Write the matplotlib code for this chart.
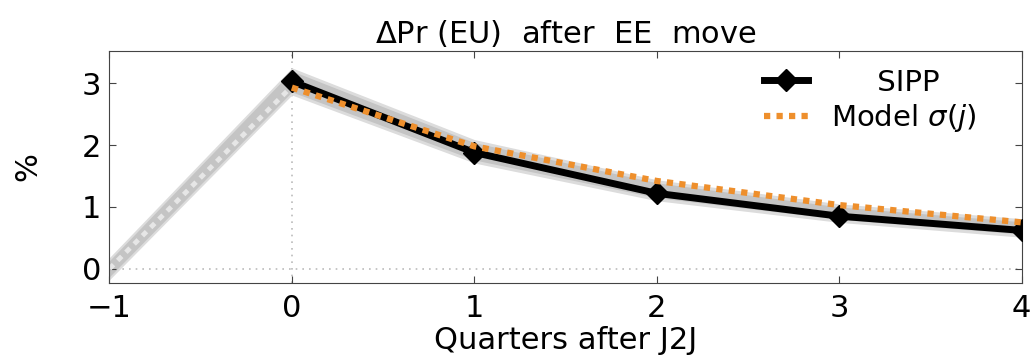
import matplotlib
matplotlib.use("Agg")
import matplotlib.pyplot as plt
import numpy as np

plt.rcParams['font.family'] = ['DejaVu Sans']
plt.rcParams['mathtext.fontset'] = 'dejavusans'

quarters = [-1, 0, 1, 2, 3, 4]
xtick_labels = ['\u22121', '0', '1', '2', '3', '4']
sipp_x = [0, 1, 2, 3, 4]
sipp = [3.03, 1.88, 1.22, 0.85, 0.62]
model_pre_x = [-1, 0]
model_pre = [0.0, 2.95]
model_x = [0, 1, 2, 3, 4]
model = [2.93, 1.98, 1.42, 1.03, 0.75]
band_x = [-1, 0, 1, 2, 3, 4]
band_mid = [0.0, 3.03, 1.90, 1.27, 0.90, 0.66]
band_inner = [0.13, 0.17, 0.14, 0.12, 0.10, 0.10]
band_outer = [0.18, 0.22, 0.19, 0.17, 0.15, 0.15]

fig = plt.figure(figsize=(10.32, 3.6), dpi=100)
ax = fig.add_axes([0.106, 0.214, 0.884, 0.644])

bm = np.array(band_mid)
ax.fill_between(band_x, bm - np.array(band_outer), bm + np.array(band_outer), color='#dcdcdc', lw=0, zorder=1)
ax.fill_between(band_x, bm - np.array(band_inner), bm + np.array(band_inner), color='#c4c4c4', lw=0, zorder=1)

ax.axhline(0, color='#bbbbbb', ls=(0, (1, 3)), lw=1.2, zorder=0.5)
ax.axvline(0, color='#bbbbbb', ls=(0, (1, 3)), lw=1.2, zorder=0.5)

ax.plot(model_pre_x, model_pre, color='#e6e6e6', ls=(0, (1.2, 1.2)), lw=3.5, zorder=2)
ax.plot(sipp_x, sipp, color='black', lw=5, marker='D', ms=11, zorder=3, label='     SIPP')
ax.plot(model_x, model, color='#ee8f2c', ls=(0, (1, 1)), lw=4.5, zorder=4, label=r'Model $\sigma(j)$')

ax.set_xlim(-1, 4)
ax.set_ylim(-0.23, 3.52)
ax.set_xticks(quarters)
ax.set_xticklabels(xtick_labels)
ax.set_yticks([0, 1, 2, 3])
ax.tick_params(direction='in', top=True, right=True, labelsize=22, length=5, color='#444444', pad=6)
ax.tick_params(axis='x', pad=8)
for s in ax.spines.values():
    s.set_color('#444444')
ax.set_xlabel('Quarters after J2J', fontsize=22, labelpad=2)
ax.set_ylabel('%', fontsize=22, labelpad=28)
ax.set_title(r'$\Delta$Pr (EU)  after  EE  move', fontsize=22, pad=6)

leg = ax.legend(loc='upper right', frameon=False, fontsize=21, handlelength=1.5,
                borderaxespad=0.2, labelspacing=0.2, bbox_to_anchor=(0.97, 1.0))

fig.savefig('out.png', dpi=100)
